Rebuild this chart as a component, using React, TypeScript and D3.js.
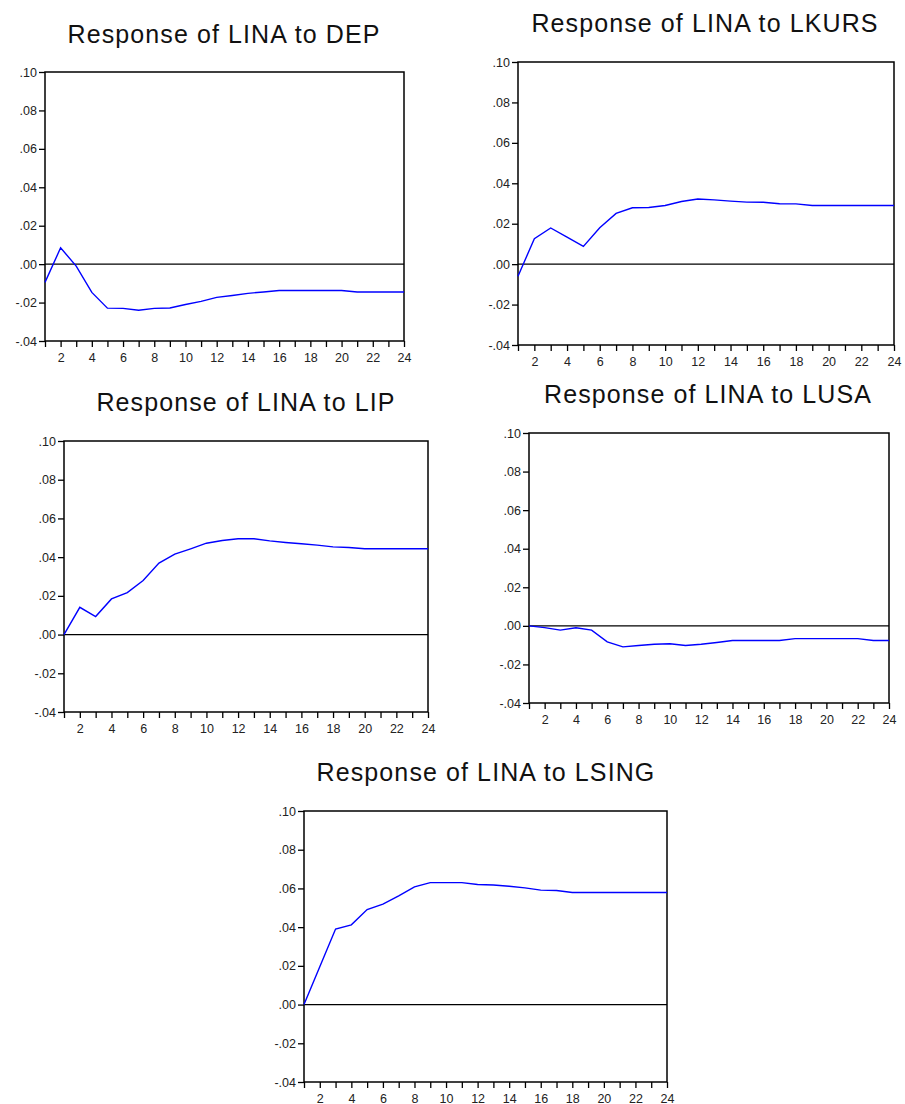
import React, { useEffect, useRef } from 'react';
import * as d3 from 'd3';

// impulse response values, periods 1..24
const PERIODS = d3.range(1, 25);
const Y_TICKS = [-0.04, -0.02, 0.0, 0.02, 0.04, 0.06, 0.08, 0.1];
const X_LABELS = [2, 4, 6, 8, 10, 12, 14, 16, 18, 20, 22, 24];

const DEP = [-0.0095, 0.0085, -0.001, -0.0147, -0.0229, -0.023, -0.024, -0.023, -0.0228, -0.021, -0.0194, -0.0173,
  -0.0163, -0.0152, -0.0145, -0.0137, -0.0137, -0.0137, -0.0137, -0.0137, -0.0145, -0.0145, -0.0145, -0.0145];
const LKURS = [-0.006, 0.0126, 0.0179, 0.0134, 0.0088, 0.018, 0.0251, 0.0279, 0.028, 0.029, 0.031, 0.0322,
  0.0318, 0.0312, 0.0307, 0.0306, 0.0299, 0.0298, 0.029, 0.029, 0.029, 0.029, 0.029, 0.029];
const LIP = [0.0, 0.0141, 0.0093, 0.0184, 0.0217, 0.0279, 0.0369, 0.0416, 0.0443, 0.0472, 0.0486, 0.0495,
  0.0495, 0.0484, 0.0476, 0.0469, 0.0462, 0.0453, 0.045, 0.0443, 0.0443, 0.0443, 0.0443, 0.0443];
const LUSA = [0.0, -0.0009, -0.0022, -0.001, -0.0022, -0.0083, -0.0109, -0.0102, -0.0095, -0.0093, -0.0102, -0.0095,
  -0.0086, -0.0076, -0.0076, -0.0076, -0.0076, -0.0066, -0.0066, -0.0066, -0.0066, -0.0066, -0.0076, -0.0076];
const LSING = [0.0, 0.0195, 0.039, 0.0412, 0.0491, 0.0519, 0.0562, 0.0608, 0.063, 0.063, 0.063, 0.062,
  0.0618, 0.0611, 0.0603, 0.0591, 0.0589, 0.0579, 0.0579, 0.0579, 0.0579, 0.0579, 0.0579, 0.0579];

const TITLES = ['Response of LINA to DEP', 'Response of LINA to LKURS', 'Response of LINA to LIP',
  'Response of LINA to LUSA', 'Response of LINA to LSING'];
const SERIES = [DEP, LKURS, LIP, LUSA, LSING];

// plot frames on the page: left, right, top, bottom, title center x, title baseline
const FRAMES = [
  { l: 45, r: 404, t: 72, b: 341, tx: 224, ty: 43 },
  { l: 518, r: 894, t: 62, b: 345, tx: 705, ty: 32 },
  { l: 64, r: 428, t: 441, b: 712, tx: 246, ty: 411 },
  { l: 529, r: 889, t: 433, b: 703, tx: 708, ty: 403 },
  { l: 304, r: 667, t: 811, b: 1082, tx: 486, ty: 781 },
];

const fmt = (v: number) => {
  const s = d3.format('.2f')(Math.abs(v)).replace(/^0/, '');
  return v < -1e-9 ? '-' + s : s;
};

const App = () => {
  const ref = useRef<SVGSVGElement>(null);

  useEffect(() => {
    const svg = d3.select(ref.current);
    svg.selectAll('*').remove();

    FRAMES.forEach((f, i) => {
      const x = d3.scaleLinear().domain([1, 24]).range([f.l, f.r]);
      const y = d3.scaleLinear().domain([-0.04, 0.1]).range([f.b, f.t]);
      const g = svg.append('g');

      g.append('text')
        .attr('x', f.tx)
        .attr('y', f.ty)
        .attr('text-anchor', 'middle')
        .attr('font-family', 'Arial, "Liberation Sans", sans-serif')
        .attr('font-size', 25)
        .attr('letter-spacing', 1.1)
        .attr('fill', '#111')
        .text(TITLES[i]);

      // y axis
      const yAxis = g.append('g').attr('transform', `translate(${f.l},0)`)
        .call(d3.axisLeft(y).tickValues(Y_TICKS).tickFormat((d) => fmt(+d)).tickSize(6).tickPadding(2));
      yAxis.select('.domain').remove();

      // x axis
      const xAxis = g.append('g').attr('transform', `translate(0,${f.b})`)
        .call(d3.axisBottom(x).tickValues(PERIODS)
          .tickFormat((d) => (X_LABELS.includes(+d) ? String(d) : ''))
          .tickSize(6).tickPadding(6));
      xAxis.select('.domain').remove();

      [yAxis, xAxis].forEach((ax) => {
        ax.selectAll('line').attr('stroke', '#000').attr('stroke-width', 1.3);
        ax.selectAll('text')
          .attr('font-family', 'Arial, "Liberation Sans", sans-serif')
          .attr('font-size', 12.5)
          .attr('fill', '#222');
      });

      // frame
      g.append('rect')
        .attr('x', f.l).attr('y', f.t)
        .attr('width', f.r - f.l).attr('height', f.b - f.t)
        .attr('fill', 'none').attr('stroke', '#000').attr('stroke-width', 1.5);

      // zero line
      g.append('line')
        .attr('x1', f.l).attr('x2', f.r)
        .attr('y1', y(0)).attr('y2', y(0))
        .attr('stroke', '#000').attr('stroke-width', 1.3);

      const line = d3.line<number>()
        .x((_, k) => x(PERIODS[k]))
        .y((d) => y(d));

      g.append('path')
        .datum(SERIES[i])
        .attr('d', line)
        .attr('fill', 'none')
        .attr('stroke', '#0000ff')
        .attr('stroke-width', 1.4);
    });
  }, []);

  return (
    <svg ref={ref} width={905} height={1104} viewBox="0 0 905 1104"
      style={{ position: 'absolute', left: 0, top: 0, display: 'block', background: '#fff' }} />
  );
};

export default App;
